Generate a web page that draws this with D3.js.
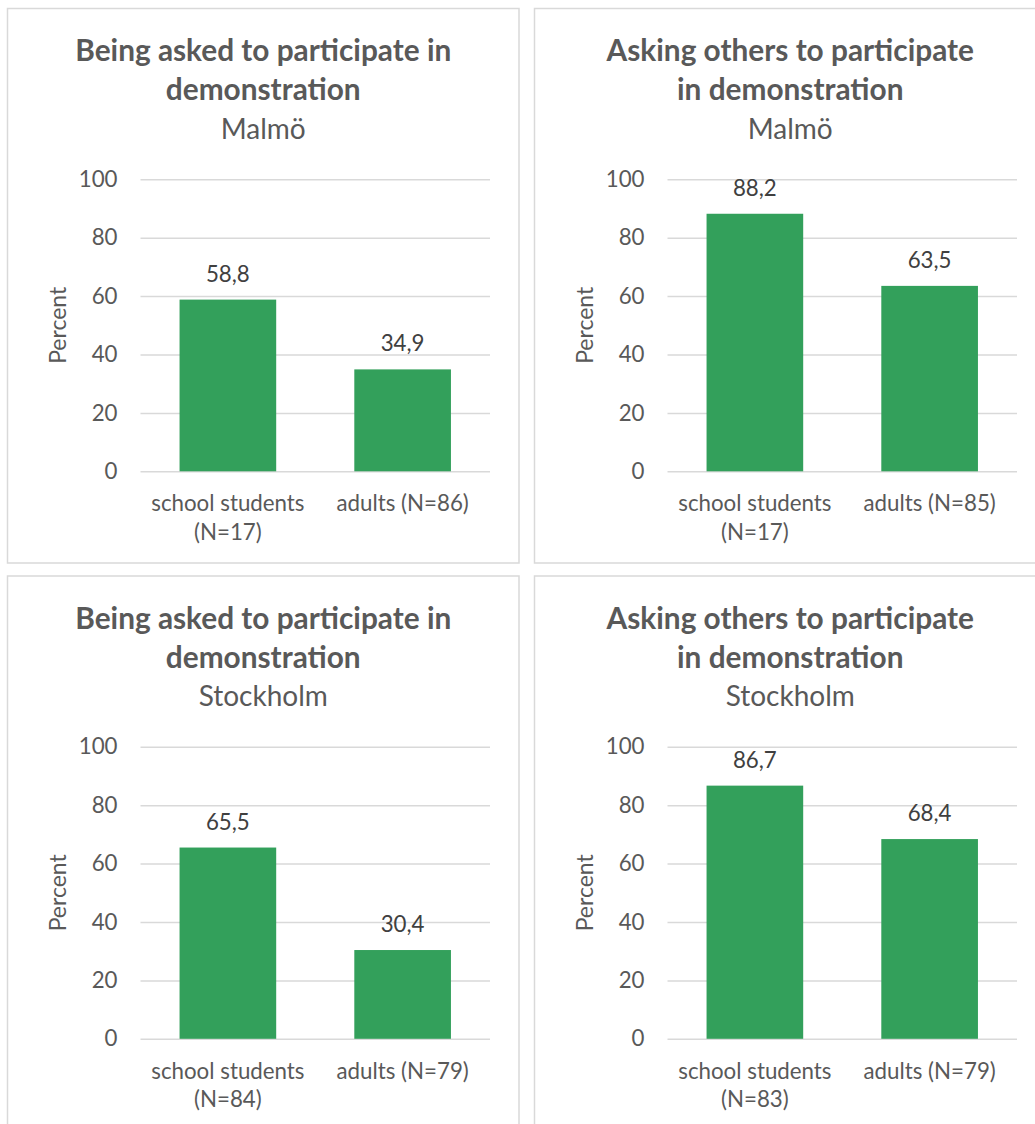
<!DOCTYPE html>
<html>
<head>
<meta charset="utf-8">
<script src="https://cdn.jsdelivr.net/npm/d3@7"></script>
<style>
  body { margin: 0; background: #fff; }
  svg { display: block; }
  text { font-family: Lato, "Open Sans", sans-serif; }
</style>
</head>
<body>
<svg class="svg1" width="1035" height="1124"></svg>
<script>
// chart data
var titleLines = [
  ["Being asked to participate in", "demonstration"],
  ["Asking others to participate", "in demonstration"]
];
var cities = ["Malmö", "Stockholm"];
var groups = ["school students", "adults"];
var nMalmoAsked = [17, 86],
    nMalmoAsking = [17, 85],
    nStockholmAsked = [84, 79],
    nStockholmAsking = [83, 79];
var valMalmoAsked = [58.8, 34.9],
    valMalmoAsking = [88.2, 63.5],
    valStockholmAsked = [65.5, 30.4],
    valStockholmAsking = [86.7, 68.4];
var yTicks = [0, 20, 40, 60, 80, 100];

var panels = [
  {title: titleLines[0], city: cities[0], n: nMalmoAsked, values: valMalmoAsked, col: 0, row: 0},
  {title: titleLines[1], city: cities[0], n: nMalmoAsking, values: valMalmoAsking, col: 1, row: 0},
  {title: titleLines[0], city: cities[1], n: nStockholmAsked, values: valStockholmAsked, col: 0, row: 1},
  {title: titleLines[1], city: cities[1], n: nStockholmAsking, values: valStockholmAsking, col: 1, row: 1}
];

var svv = d3.select(".svg1");
var fmt = d3.formatLocale({decimal: ",", thousands: " ", grouping: [3], currency: ["", ""]}).format(".1f");

var textColor = "#595959",
    gridColor = "#d9d9d9",
    barColor = "#33a05b",
    labelSize = "22.3px";

var plot = {left: 140.5, right: 490, top: 179.3, bottom: 471.3};

var x = d3.scaleBand().domain([0, 1]).range([plot.left, plot.right]).paddingInner(0.447).paddingOuter(0.2235),
    y = d3.scaleLinear().domain([0, 100]).range([plot.bottom, plot.top]);

panels.forEach(function(p) {
  var g = svv.append("g")
      .attr("transform", "translate(" + (p.col * 527) + "," + (p.row * 567.5) + ")");

  // panel frame
  g.append("rect")
      .attr("x", 7.5).attr("y", 8.5)
      .attr("width", 511.5).attr("height", 554.5)
      .attr("fill", "#fff")
      .attr("stroke", gridColor)
      .attr("stroke-width", 1.5);

  var cx = (7.5 + 519) / 2;

  var title = g.append("text")
      .attr("text-anchor", "middle")
      .attr("fill", textColor);
  p.title.forEach(function(line, i) {
    title.append("tspan")
        .attr("x", cx)
        .attr("y", 61 + i * 39)
        .style("font-size", "29.8px")
        .style("font-weight", "bold")
        .text(line);
  });
  title.append("tspan")
      .attr("x", cx)
      .attr("y", 138.5)
      .style("font-size", "28px")
      .text(p.city);

  // gridlines + y labels
  var yAxis = g.append("g")
      .attr("transform", "translate(" + plot.left + ",0)")
      .call(d3.axisLeft(y).tickValues(yTicks).tickSize(-(plot.right - plot.left)).tickPadding(23));
  yAxis.select(".domain").remove();
  yAxis.selectAll(".tick line").attr("stroke", gridColor).attr("stroke-width", 1.5);
  yAxis.selectAll(".tick text")
      .attr("fill", textColor)
      .style("font-size", labelSize)
      .style("font-family", "Lato, sans-serif");

  g.append("text")
      .attr("transform", "translate(66," + ((plot.top + plot.bottom) / 2) + ") rotate(-90)")
      .attr("text-anchor", "middle")
      .attr("fill", textColor)
      .style("font-size", "23px")
      .text("Percent");

  g.selectAll(".bar")
    .data(p.values)
    .enter().append("rect")
      .attr("class", "bar")
      .attr("x", function(d, i) { return x(i); })
      .attr("width", x.bandwidth())
      .attr("y", function(d) { return y(d); })
      .attr("height", function(d) { return y(0) - y(d); })
      .attr("fill", barColor);

  g.selectAll(".val")
    .data(p.values)
    .enter().append("text")
      .attr("class", "val")
      .attr("x", function(d, i) { return x(i) + x.bandwidth() / 2; })
      .attr("y", function(d) { return y(d) - 18; })
      .attr("text-anchor", "middle")
      .attr("fill", "#404040")
      .style("font-size", labelSize)
      .text(function(d) { return fmt(d); });

  // category labels
  var cat = g.selectAll(".cat")
    .data(groups)
    .enter().append("text")
      .attr("class", "cat")
      .attr("text-anchor", "middle")
      .attr("fill", textColor)
      .style("font-size", labelSize);
  cat.each(function(d, i) {
    var t = d3.select(this),
        cxx = x(i) + x.bandwidth() / 2,
        label = "(N=" + p.n[i] + ")";
    if (i === 0) {
      t.append("tspan").attr("x", cxx).attr("y", 511).text(d);
      t.append("tspan").attr("x", cxx).attr("y", 539.5).text(label);
    } else {
      t.append("tspan").attr("x", cxx).attr("y", 511).text(d + " " + label);
    }
  });
});
</script>
</body>
</html>
